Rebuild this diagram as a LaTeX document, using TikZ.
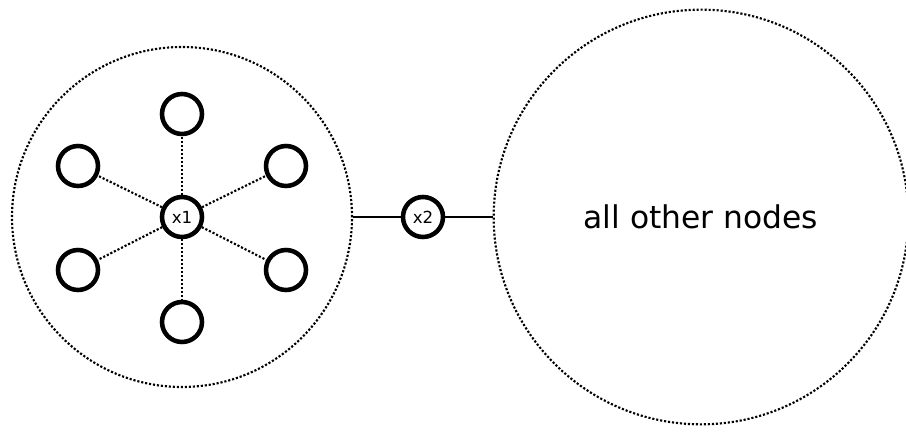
\documentclass[tikz,border=0pt]{standalone}
\usepackage{fontspec}
\setmainfont{DejaVu Sans}
\begin{document}
\begin{tikzpicture}[x=0.75pt,y=-0.75pt,
  dotline/.style={line width=1.6pt,dash pattern=on 1.6pt off 1.4pt},
  bigcirc/.style={circle,draw,dotline,inner sep=0pt},
  smallnode/.style={circle,draw,line width=3.4pt,minimum size=30pt,inner sep=0pt,font=\fontsize{12.5}{13}\selectfont},
  solidline/.style={line width=1.6pt}]
\useasboundingbox (0,0) rectangle (906,434);
\node[bigcirc,minimum size=255pt] (L) at (182,217) {};
\node[bigcirc,minimum size=311pt,font=\fontsize{23.5}{26}\selectfont] (R) at (701,217) {all other nodes};
\node[smallnode] (x1) at (182,217) {x1};
\node[smallnode] (a) at (182,114) {};
\node[smallnode] (b) at (78,166) {};
\node[smallnode] (c) at (286,166) {};
\node[smallnode] (d) at (78,270) {};
\node[smallnode] (e) at (286,270) {};
\node[smallnode] (f) at (182,322) {};
\node[smallnode] (x2) at (423,217) {x2};
\foreach \n in {a,b,c,d,e,f} \draw[dotline] (x1) -- (\n);
\draw[solidline] (L.east) -- (x2);
\draw[solidline] (x2) -- (R.west);
\end{tikzpicture}
\end{document}
